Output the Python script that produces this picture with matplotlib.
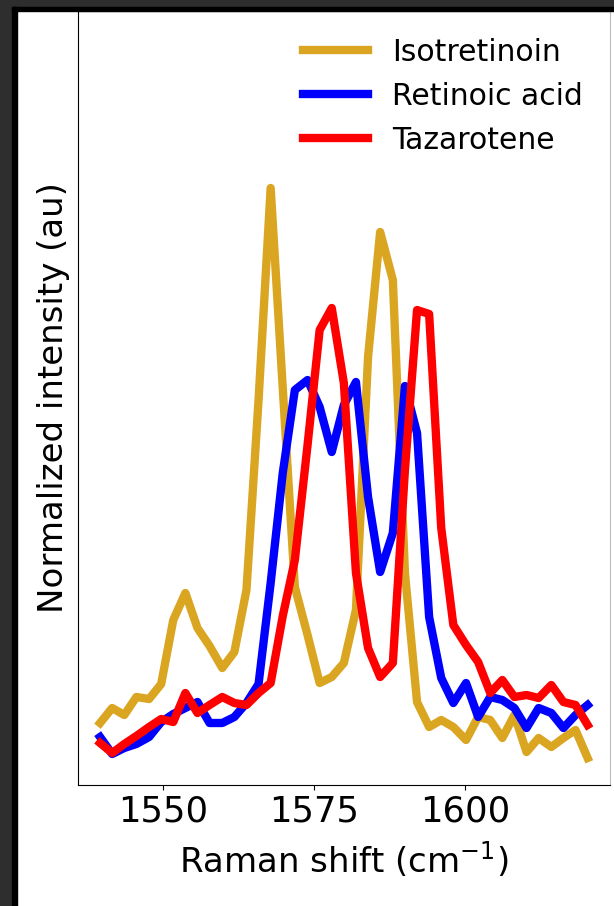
import numpy as np
import matplotlib
matplotlib.use("Agg")
import matplotlib.pyplot as plt
from matplotlib.patches import Rectangle

# Raman shift grid (cm^-1)
shift = [1539.6, 1541.6, 1543.6, 1545.6, 1547.7, 1549.7, 1551.7, 1553.7, 1555.7,
         1557.7, 1559.8, 1561.8, 1563.8, 1565.8, 1567.8, 1569.8, 1571.8, 1573.9,
         1575.9, 1577.9, 1579.9, 1581.9, 1583.9, 1585.9, 1588.0, 1590.0, 1592.0,
         1594.0, 1596.0, 1598.0, 1600.1, 1602.1, 1604.1, 1606.1, 1608.1, 1610.1,
         1612.1, 1614.2, 1616.2, 1618.2, 1620.2]

# intensities (au)
isotretinoin = [62, 77, 70, 88, 86, 101, 165, 192, 157, 139, 117, 133, 195, 385,
                597, 397, 198, 150, 102, 108, 122, 175, 428, 553, 505, 212, 83,
                58, 65, 58, 45, 68, 65, 47, 70, 33, 47, 38, 47, 55, 27]
retinoic_acid = [48, 31, 37, 41, 48, 63, 71, 77, 83, 62, 62, 68, 82, 101, 202, 312,
                 395, 405, 378, 333, 380, 403, 288, 213, 252, 399, 352, 168, 107,
                 82, 102, 68, 88, 85, 77, 57, 77, 72, 57, 70, 80]
tazarotene = [42, 32, 41, 49, 58, 66, 63, 92, 72, 80, 88, 82, 80, 92, 102, 169, 225,
              340, 455, 477, 402, 212, 137, 108, 122, 315, 475, 471, 257, 160, 140,
              123, 92, 105, 88, 90, 87, 100, 83, 80, 60]

labels = ["Isotretinoin", "Retinoic acid", "Tazarotene"]
colors = ["goldenrod", "blue", "red"]

fig = plt.figure(figsize=(6.14, 9.06), dpi=100)
ax = fig.add_axes([78/614, 121/906, 532/614, 774/906])

for y, lab, c in zip([isotretinoin, retinoic_acid, tazarotene], labels, colors):
    ax.plot(shift, y, color=c, lw=6, label=lab)

ax.set_xlim(1535.95, 1623.9)
ax.set_ylim(0, 774)
ax.set_xticks([1550, 1575, 1600])
ax.set_yticks([])
ax.tick_params(axis='x', labelsize=25.5)
ax.set_xlabel("Raman shift (cm$^{-1}$)", fontsize=24.5, labelpad=8)
ax.set_ylabel("Normalized intensity (au)", fontsize=24.5, labelpad=6)
ax.spines['right'].set_color('#bbbbbb')
ax.legend(frameon=False, fontsize=21.5, loc='upper right', handlelength=2.2,
          handletextpad=0.8, labelspacing=0.5)

# dark screenshot border on the left and top
W, H = 614, 906
fig.patches.append(Rectangle((0, 0), 12/W, 1, transform=fig.transFigure,
                             color='#2e2e2e', zorder=5))
fig.patches.append(Rectangle((0, 1 - 7/H), 1, 7/H, transform=fig.transFigure,
                             color='#2e2e2e', zorder=5))
fig.patches.append(Rectangle((12/W, 0), 5/W, 1 - 7/H, transform=fig.transFigure,
                             color='black', zorder=5))
fig.patches.append(Rectangle((12/W, 1 - 11/H), 1, 4/H, transform=fig.transFigure,
                             color='black', zorder=5))

fig.savefig("out.png", dpi=100)
